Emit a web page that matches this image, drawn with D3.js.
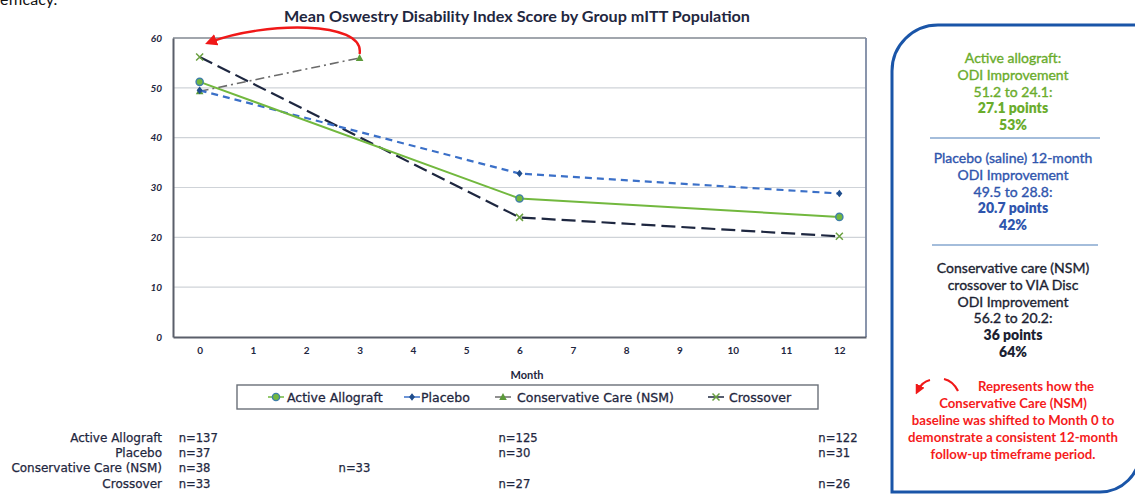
<!DOCTYPE html>
<html><head><meta charset="utf-8">
<script src="https://cdn.jsdelivr.net/npm/d3@7"></script>
<style>
html,body{margin:0;padding:0;background:#fff;}
svg{display:block;font-family:Lato,"Open Sans",sans-serif;}
</style></head>
<body>
<svg id="c" width="1135" height="496"></svg>
<script>
// ---- data ----
const months = [0,1,2,3,4,5,6,7,8,9,10,11,12];
const yTicks = [0,10,20,30,40,50,60];
const seriesNames = ["Active Allograft","Placebo","Conservative Care (NSM)","Crossover"];
const activeAllograft = [{m:0,v:51.2},{m:6,v:27.8},{m:12,v:24.1}];
const placebo = [{m:0,v:49.5},{m:6,v:32.8},{m:12,v:28.8}];
const conservativeCare = [{m:0,v:49.3},{m:3,v:56.0}];
const crossover = [{m:0,v:56.2},{m:6,v:24.0},{m:12,v:20.2}];
const nActive = [{m:0,n:"n=137"},{m:6,n:"n=125"},{m:12,n:"n=122"}];
const nPlacebo = [{m:0,n:"n=37"},{m:6,n:"n=30"},{m:12,n:"n=31"}];
const nConservative = [{m:0,n:"n=38"},{m:3,n:"n=33"}];
const nCrossover = [{m:0,n:"n=33"},{m:6,n:"n=27"},{m:12,n:"n=26"}];
const panelGreen = ["Active allograft:","ODI Improvement","51.2 to 24.1:","27.1 points","53%"];
const panelBlue = ["Placebo (saline) 12-month","ODI Improvement","49.5 to 28.8:","20.7 points","42%"];
const panelDark = ["Conservative care (NSM)","crossover to VIA Disc","ODI Improvement","56.2 to 20.2:","36 points","64%"];
const panelRed = ["Represents how the","Conservative Care (NSM)","baseline was shifted to Month 0 to","demonstrate a consistent 12-month","follow-up timeframe period."];

const svg = d3.select("#c");
const L=173, R=866, T=38, B=337;
const x = d3.scalePoint().domain(months).range([L,R]).padding(0.5);
const y = d3.scaleLinear().domain([0,60]).range([B,T]);

const C = {
  active:"#72b83e", activeMk:"#3e8c6a",
  placebo:"#3b70c8", placeboMk:"#1f4d8c",
  cons:"#6b6b6b", consMk:"#5c9a3a",
  cross:"#1e2740", crossMk:"#6aa040",
  text:"#1f2740"
};
const WIDE = "'DejaVu Sans',Verdana,sans-serif";

// cut-off text at top-left (as in the reference)
svg.append("text").attr("x",0).attr("y",5).attr("font-size",16).attr("fill","#111").text("efficacy.");

// title
svg.append("text").attr("x",517).attr("y",22).attr("text-anchor","middle")
  .attr("font-size",14.5).attr("font-weight",700).attr("fill",C.text)
  .attr("textLength",466).attr("lengthAdjust","spacingAndGlyphs")
  .text("Mean Oswestry Disability Index Score by Group mITT Population");

// gridlines
svg.append("g").selectAll("line").data(yTicks.filter(d=>d>0)).join("line")
  .attr("x1",L).attr("x2",R).attr("y1",d=>y(d)).attr("y2",d=>y(d))
  .attr("stroke","#cfd3d8").attr("stroke-width",1.2);

// frame
svg.append("line").attr("x1",L).attr("x2",R).attr("y1",T).attr("y2",T).attr("stroke","#8a8f99").attr("stroke-width",1.5);
svg.append("line").attr("x1",R).attr("x2",R).attr("y1",T).attr("y2",B).attr("stroke","#7d8aa3").attr("stroke-width",1.8);

// y axis
const ya = svg.append("g").attr("transform",`translate(${L},0)`)
  .call(d3.axisLeft(y).tickValues(yTicks).tickSize(0).tickPadding(11));
ya.select(".domain").attr("stroke","#5a5f6a").attr("stroke-width",2);
ya.selectAll("text").attr("font-size",10).attr("font-weight",700).attr("font-style","italic").attr("fill",C.text).attr("font-family","Lato");

// x axis
const xa = svg.append("g").attr("transform",`translate(0,${B})`)
  .call(d3.axisBottom(x).tickSize(0).tickPadding(10));
xa.select(".domain").attr("stroke","#5a5f6a").attr("stroke-width",2.2);
xa.selectAll("text").attr("font-size",10).attr("font-weight",700).attr("fill",C.text).attr("font-family","Lato");
svg.append("text").attr("x",527).attr("y",379).attr("text-anchor","middle").attr("font-size",11).attr("font-weight",700).attr("fill",C.text).text("Month");

const line = d3.line().x(d=>x(d.m)).y(d=>y(d.v));

const styles = [
  {data:conservativeCare, stroke:C.cons, w:1.6, dash:"9,4,2,4", mk:"tri", mc:C.consMk},
  {data:crossover, stroke:C.cross, w:2.2, dash:"14,6", mk:"x", mc:C.crossMk},
  {data:placebo, stroke:C.placebo, w:2.2, dash:"7,5", mk:"dia", mc:C.placeboMk},
  {data:activeAllograft, stroke:C.active, w:2, dash:null, mk:"circ", mc:C.activeMk}
];

function marker(g, type, cx, cy, col){
  if(type==="circ"){
    g.append("circle").attr("cx",cx).attr("cy",cy).attr("r",3.6).attr("fill",C.active).attr("stroke","#3f7fa8").attr("stroke-width",1.4);
  } else if(type==="dia"){
    g.append("path").attr("d",`M${cx},${cy-3.8}L${cx+3},${cy}L${cx},${cy+3.8}L${cx-3},${cy}Z`).attr("fill",col);
  } else if(type==="tri"){
    g.append("path").attr("d",`M${cx},${cy-4}L${cx+3.8},${cy+3}L${cx-3.8},${cy+3}Z`).attr("fill",col);
  } else if(type==="x"){
    g.append("path").attr("d",`M${cx-3.5},${cy-3.5}L${cx+3.5},${cy+3.5}M${cx-3.5},${cy+3.5}L${cx+3.5},${cy-3.5}`).attr("stroke",col).attr("stroke-width",1.5);
  }
}

styles.forEach(s=>{
  svg.append("path").datum(s.data).attr("d",line).attr("fill","none")
    .attr("stroke",s.stroke).attr("stroke-width",s.w).attr("stroke-dasharray",s.dash);
  const g = svg.append("g");
  s.data.forEach(d=>marker(g,s.mk,x(d.m),y(d.v),s.mc));
});

// red arrow in chart
const defs = svg.append("defs");
defs.append("marker").attr("id","ah").attr("viewBox","0 0 10 10").attr("refX",5).attr("refY",5)
  .attr("markerWidth",5).attr("markerHeight",5).attr("orient","auto")
  .append("path").attr("d","M0,0L10,5L0,10Z").attr("fill","#f01818");
const ax0 = x(3), ay0 = y(56.2)-3, ax1 = x(0)+3, ay1 = y(56.2)-11;
svg.append("path")
  .attr("d",`M${ax0},${ay0} C${ax0+6},${ay0-34} ${ax1+60},${ay1-24} ${ax1+8},${ay1-4}`)
  .attr("fill","none").attr("stroke","#f01818").attr("stroke-width",2.4).attr("marker-end","url(#ah)");

// legend
const lg = svg.append("g");
lg.append("rect").attr("x",237).attr("y",385).attr("width",581).attr("height",24).attr("fill","#fff").attr("stroke","#6a6f78").attr("stroke-width",1.4);
const legItems = [
  {name:seriesNames[0], lx:268, tx:287, s:styles[3]},
  {name:seriesNames[1], lx:404, tx:421, s:styles[2]},
  {name:seriesNames[2], lx:495, tx:517, s:styles[0]},
  {name:seriesNames[3], lx:708, tx:729, s:styles[1]}
];
legItems.forEach(it=>{
  lg.append("line").attr("x1",it.lx).attr("x2",it.lx+16).attr("y1",397).attr("y2",397).attr("stroke",it.s.stroke).attr("stroke-width",1.5);
  marker(lg,it.s.mk,it.lx+8,397,it.s.mc);
  lg.append("text").attr("x",it.tx).attr("y",401.5).attr("font-size",12.5).attr("font-family",WIDE)
    .attr("fill",C.text).attr("stroke",C.text).attr("stroke-width",0.3).text(it.name);
});

// n table
const nRows = [nActive,nPlacebo,nConservative,nCrossover];
const rowY = [442,457,472,488];
nRows.forEach((row,i)=>{
  svg.append("text").attr("x",162).attr("y",rowY[i]).attr("text-anchor","end").attr("font-size",12).attr("font-family",WIDE)
    .attr("fill",C.text).attr("stroke",C.text).attr("stroke-width",0.25).text(seriesNames[i]);
  svg.append("g").selectAll("text").data(row).join("text")
    .attr("x",d=>x(d.m)-21).attr("y",rowY[i]).attr("font-size",11.6).attr("font-family",WIDE)
    .attr("fill",C.text).attr("stroke",C.text).attr("stroke-width",0.25).text(d=>d.n);
});

// right panel
svg.append("path")
  .attr("d","M1145,25 L938,25 A46,46 0 0 0 892,71 L892,492 L1100,492 A40,40 0 0 0 1140,452")
  .attr("fill","none").attr("stroke","#1a55a8").attr("stroke-width",3);
const PX = 1013;
function block(lines, y0, col, boldFrom){
  lines.forEach((t,i)=>{
    svg.append("text").attr("x",PX).attr("y",y0+i*16.8).attr("text-anchor","middle")
      .attr("font-size",14).attr("font-weight",i>=boldFrom?800:400).attr("fill",col)
      .attr("stroke",i>=boldFrom?"none":col).attr("stroke-width",0.35).text(t);
  });
}
block(panelGreen,63,"#6aac2c",3);
svg.append("line").attr("x1",930).attr("x2",1100).attr("y1",138).attr("y2",138).attr("stroke","#4a7cb8").attr("stroke-width",1.2);
block(panelBlue,163,"#2f55ad",3);
svg.append("line").attr("x1",932).attr("x2",1098).attr("y1",245).attr("y2",245).attr("stroke","#4a7cb8").attr("stroke-width",1.2);
block(panelDark,273,"#1c1f33",4);
panelRed.forEach((t,i)=>{
  svg.append("text").attr("x",i===0?1036:PX).attr("y",391+i*17).attr("text-anchor","middle")
    .attr("font-size",13.2).attr("font-weight",700).attr("fill","#f51c1c").text(t);
});
// small red arrow icon
svg.append("path").attr("d","M930,380 Q922,382 918,390").attr("fill","none").attr("stroke","#f01818").attr("stroke-width",2).attr("marker-end","url(#ah)");
svg.append("path").attr("d","M944,379 Q953,381 958,391").attr("fill","none").attr("stroke","#f01818").attr("stroke-width",2.2);
</script>
</body></html>
